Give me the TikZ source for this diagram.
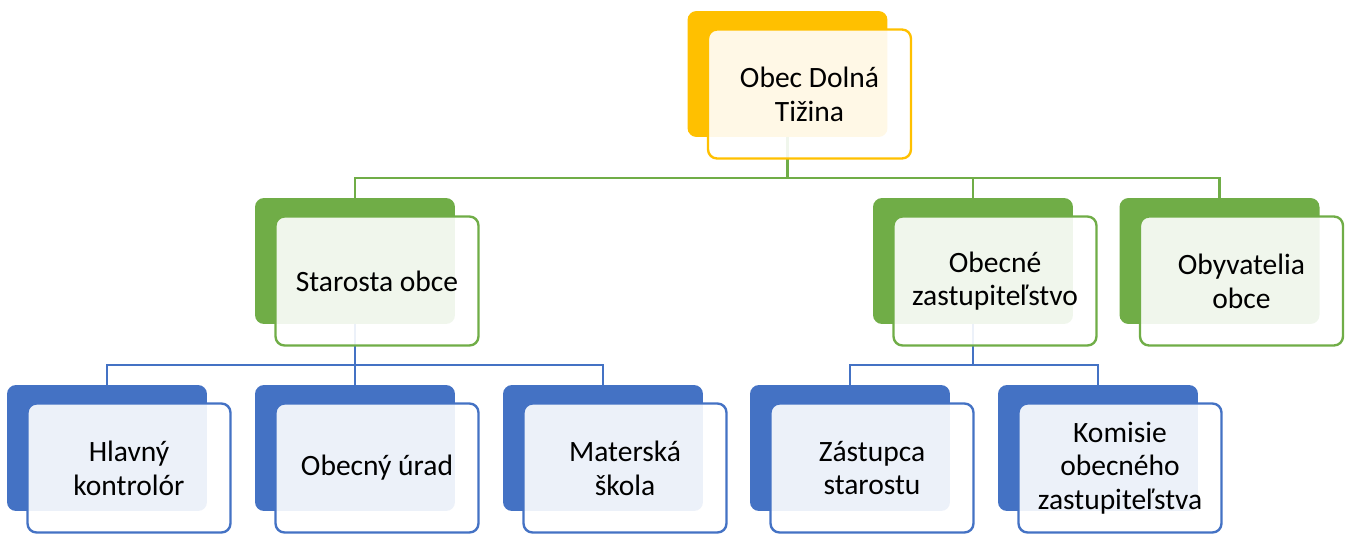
\documentclass[tikz,border=0pt]{standalone}
\usepackage{fontspec}
\setmainfont{Carlito}
\definecolor{orgorange}{HTML}{FFC000}
\definecolor{orggreen}{HTML}{70AD47}
\definecolor{orgblue}{HTML}{4472C4}
\begin{document}
\begin{tikzpicture}[x=0.02cm, y=-0.02cm,
        backbox/.style={rectangle, rounded corners=0.18cm, minimum width=4cm, minimum height=2.52cm, inner sep=0pt},
        frontbox/.style={rectangle, rounded corners=0.18cm, minimum width=4.06cm, minimum height=2.58cm, inner sep=0pt,
            line width=1.35pt, fill=white, fill opacity=0.9, text opacity=1, align=center,
            font=\fontsize{16.8}{19.2}\selectfont},
        link/.style={line width=1.35pt}]
        \useasboundingbox (0,0) rectangle (1348,534);

        % back boxes
        \node[backbox, fill=orgorange](obec) at (787.5,74){};
        \node[backbox, fill=orggreen](starosta) at (355,261){};
        \node[backbox, fill=orggreen](zastup) at (973,261){};
        \node[backbox, fill=orggreen](obyv) at (1219.5,261){};
        \node[backbox, fill=orgblue](kontrolor) at (107,448){};
        \node[backbox, fill=orgblue](urad) at (355,448){};
        \node[backbox, fill=orgblue](skola) at (603,448){};
        \node[backbox, fill=orgblue](zastupca) at (850,448){};
        \node[backbox, fill=orgblue](komisie) at (1098,448){};

        % connectors
        \coordinate(bus1) at (787.5,178);
        \coordinate(bus2) at (355,365);
        \coordinate(bus3) at (973,365);
        \draw[link, orggreen](obec.south)--(bus1)-|(starosta.north);
        \draw[link, orggreen](bus1)-|(zastup.north);
        \draw[link, orggreen](bus1)-|(obyv.north);
        \draw[link, orgblue](starosta.south)--(bus2)-|(kontrolor.north);
        \draw[link, orgblue](bus2)--(urad.north);
        \draw[link, orgblue](bus2)-|(skola.north);
        \draw[link, orgblue](zastup.south)--(bus3)-|(zastupca.north);
        \draw[link, orgblue](bus3)-|(komisie.north);

        % front boxes
        \node[frontbox, draw=orgorange](obec-f) at ([xshift=0.44cm, yshift=-0.4cm]obec.center){Obec Dolná\\Tižina};
        \node[frontbox, draw=orggreen](starosta-f) at ([xshift=0.44cm, yshift=-0.4cm]starosta.center){Starosta obce};
        \node[frontbox, draw=orggreen](zastup-f) at ([xshift=0.44cm, yshift=-0.4cm]zastup.center){Obecné\\zastupiteľstvo};
        \node[frontbox, draw=orggreen](obyv-f) at ([xshift=0.44cm, yshift=-0.4cm]obyv.center){Obyvatelia\\obce};
        \node[frontbox, draw=orgblue](kontrolor-f) at ([xshift=0.44cm, yshift=-0.4cm]kontrolor.center){Hlavný\\kontrolór};
        \node[frontbox, draw=orgblue](urad-f) at ([xshift=0.44cm, yshift=-0.4cm]urad.center){Obecný úrad};
        \node[frontbox, draw=orgblue](skola-f) at ([xshift=0.44cm, yshift=-0.4cm]skola.center){Materská\\škola};
        \node[frontbox, draw=orgblue](zastupca-f) at ([xshift=0.44cm, yshift=-0.4cm]zastupca.center){Zástupca\\starostu};
        \node[frontbox, draw=orgblue](komisie-f) at ([xshift=0.44cm, yshift=-0.4cm]komisie.center){Komisie\\obecného\\zastupiteľstva};
    \end{tikzpicture}
\end{document}
